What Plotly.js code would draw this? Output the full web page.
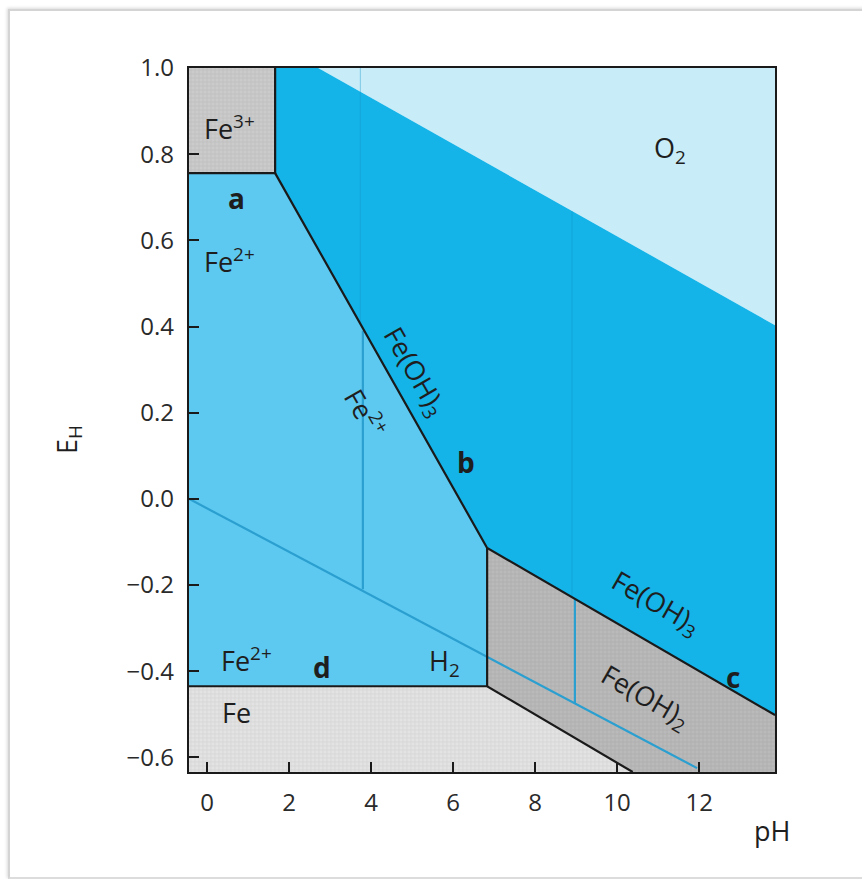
<!DOCTYPE html>
<html>
<head>
<meta charset="utf-8">
<script src="https://cdn.plot.ly/plotly-3.0.1.min.js"></script>
<style>
  html, body { margin: 0; padding: 0; background: #ffffff; overflow: hidden; }
  #frame { position: absolute; left: 8px; top: 9px; width: 900px; height: 866px;
           border-left: 2px solid #d4d4d4; border-top: 2px solid #d4d4d4; border-bottom: 2px solid #dcdcdc;
           box-shadow: -1px -1px 3px rgba(0,0,0,0.15); pointer-events: none; }
  #chart { position: absolute; left: 0; top: 0; width: 862px; height: 879px; }
</style>
</head>
<body>
<div id="chart"></div>
<div id="frame"></div>
<script>
// ---- data (pH, E_H in volts) ----
const xRange = [-0.44, 13.85];
const yRange = [-0.634, 1.0];
const xTicks = [0, 2, 4, 6, 8, 10, 12];
const yTicks = [-0.6, -0.4, -0.2, 0.0, 0.2, 0.4, 0.6, 0.8, 1.0];

// stability-field polygons
const o2_pH     = [2.71, 13.85, 13.85];
const o2_E      = [1.0, 1.0, 0.403];
const feoh3_pH  = [1.66, 2.71, 13.85, 13.85, 6.83, 1.66];
const feoh3_E   = [1.0, 1.0, 0.403, -0.502, -0.114, 0.756];
const fe3_pH    = [-0.44, 1.66, 1.66, -0.44];
const fe3_E     = [1.0, 1.0, 0.756, 0.756];
const fe2_pH    = [-0.44, 1.66, 6.83, 6.83, -0.44];
const fe2_E     = [0.756, 0.756, -0.114, -0.435, -0.435];
const feoh2_pH  = [6.83, 13.85, 13.85, 10.38, 6.83];
const feoh2_E   = [-0.114, -0.502, -0.634, -0.634, -0.435];
const fe_pH     = [-0.44, 6.83, 10.38, -0.44];
const fe_E      = [-0.435, -0.435, -0.634, -0.634];

// black boundary lines (a, b, c, d and the others), separated by null
const bound_pH  = [-0.44, 1.66, 1.66, null, 1.66, 6.83, 13.85, null, -0.44, 6.83, 10.38, null, 6.83, 6.83];
const bound_E   = [0.756, 0.756, 1.0, null, 0.756, -0.114, -0.502, null, -0.435, -0.435, -0.634, null, -0.114, -0.435];

// water (H2) line and blue vertical lines
const h2_pH     = [-0.44, 11.95];
const h2_E      = [0.0, -0.625];
const vert_pH   = [3.8, 3.8, null, 8.97, 8.97];
const vert_E    = [0.39, -0.21, null, -0.232, -0.474];
const faint_pH  = [3.74, 3.74, null, 8.9, 8.9];
const faint_E   = [1.0, 0.41, null, 0.668, -0.228];

const FONT = '"Open Sans", "DejaVu Sans", sans-serif';
const INK = '#1e1e1e';

function poly(x, y, color, pattern) {
  const t = { x: x, y: y, type: 'scatter', mode: 'lines', fill: 'toself',
              fillcolor: color, line: { width: 0, color: color }, hoverinfo: 'skip', showlegend: false };
  if (pattern) t.fillpattern = pattern;
  return t;
}

const traces = [
  poly(o2_pH, o2_E, '#c8edf9'),
  poly(feoh3_pH, feoh3_E, '#14b3e8'),
  poly(fe3_pH, fe3_E, '#c9c9c9', { shape: '+', bgcolor: '#cbcbcb', fgcolor: '#bababa', size: 4, solidity: 0.3 }),
  poly(fe2_pH, fe2_E, '#5ec9f0'),
  poly(feoh2_pH, feoh2_E, '#b8b8b8', { shape: '+', bgcolor: '#bababa', fgcolor: '#aaaaaa', size: 4, solidity: 0.3 }),
  poly(fe_pH, fe_E, '#e1e1e1', { shape: '+', bgcolor: '#e3e3e3', fgcolor: '#d2d2d2', size: 4, solidity: 0.3 }),
  { x: faint_pH, y: faint_E, type: 'scatter', mode: 'lines', line: { color: 'rgba(20,150,200,0.35)', width: 1.2 },
    hoverinfo: 'skip', showlegend: false },
  { x: h2_pH, y: h2_E, type: 'scatter', mode: 'lines', line: { color: '#2a9fd0', width: 2.2 },
    hoverinfo: 'skip', showlegend: false },
  { x: vert_pH, y: vert_E, type: 'scatter', mode: 'lines', line: { color: '#2a9fd0', width: 2.2 },
    hoverinfo: 'skip', showlegend: false },
  { x: bound_pH, y: bound_E, type: 'scatter', mode: 'lines', line: { color: '#1a1a1a', width: 2.2 },
    connectgaps: false, hoverinfo: 'skip', showlegend: false }
];

function lab(text, x, y, size, angle, bold) {
  return { text: bold ? '<b>' + text + '</b>' : text, x: x, y: y, xref: 'x', yref: 'y',
           xanchor: 'center', yanchor: 'middle',
           showarrow: false, textangle: angle || 0,
           font: { family: FONT, size: size, color: INK } };
}

const annotations = [
  lab('Fe<sup>3+</sup>', 0.55, 0.862, 27),
  lab('a', 0.73, 0.698, 28, 0, true),
  lab('Fe<sup>2+</sup>', 0.55, 0.553, 27),
  lab('Fe(OH)<sub>3</sub>', 5.07, 0.294, 27, 60),
  lab('Fe<sup>2+</sup>', 3.88, 0.201, 27, 60),
  lab('b', 6.32, 0.085, 28, 0, true),
  lab('Fe(OH)<sub>3</sub>', 10.93, -0.244, 27, 30),
  lab('c', 12.83, -0.414, 28, 0, true),
  lab('Fe(OH)<sub>2</sub>', 10.68, -0.46, 27, 30),
  lab('Fe<sup>2+</sup>', 0.95, -0.374, 27),
  lab('d', 2.80, -0.39, 28, 0, true),
  lab('H<sub>2</sub>', 5.80, -0.379, 27),
  lab('Fe', 0.71, -0.497, 27),
  lab('O<sub>2</sub>', 11.3, 0.81, 27),
  { text: 'pH', xref: 'paper', yref: 'paper', x: 0.995, y: -0.0824, xanchor: 'center', yanchor: 'middle',
    showarrow: false, font: { family: FONT, size: 27, color: INK } },
  { text: 'E<sub>H</sub>', xref: 'paper', yref: 'paper', x: -0.206, y: 0.472, xanchor: 'center', yanchor: 'middle',
    showarrow: false, textangle: -90, font: { family: FONT, size: 27, color: INK } }
];

const axisCommon = {
  showgrid: false, zeroline: false, showline: true, mirror: true,
  linecolor: '#1a1a1a', linewidth: 2.2,
  ticks: 'inside', ticklen: 10, tickwidth: 2, tickcolor: '#1a1a1a',
  tickfont: { family: FONT, size: 24, color: '#2a2a2a' },
  fixedrange: true
};

const layout = {
  width: 862, height: 879,
  margin: { l: 189, r: 87, t: 68, b: 107 },
  paper_bgcolor: 'rgba(0,0,0,0)', plot_bgcolor: '#ffffff',
  showlegend: false,
  hovermode: false,
  xaxis: Object.assign({}, axisCommon, { range: xRange, tickmode: 'array', tickvals: xTicks,
          ticktext: xTicks.map(String), ticklabelstandoff: 8 }),
  yaxis: Object.assign({}, axisCommon, { range: yRange, tickmode: 'array', tickvals: yTicks,
          ticktext: yTicks.map(v => (v < 0 ? '\u2212' : '') + Math.abs(v).toFixed(1)), ticklabelstandoff: 8 }),
  annotations: annotations
};

Plotly.newPlot('chart', traces, layout, { displayModeBar: false });
</script>
</body>
</html>
